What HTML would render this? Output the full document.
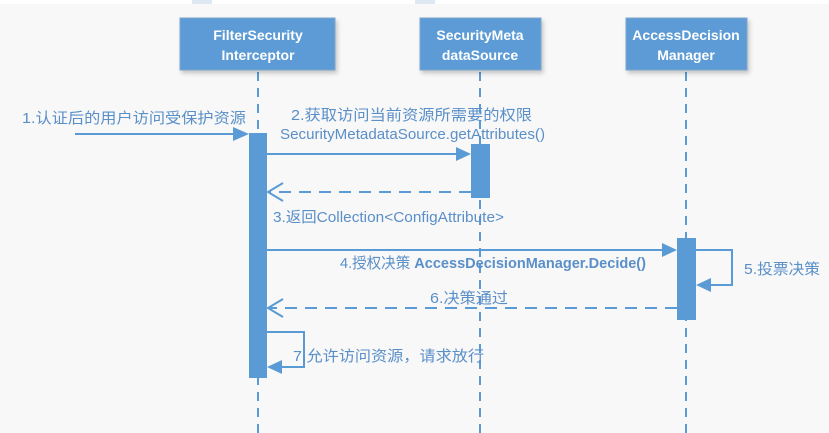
<!DOCTYPE html>
<html><head><meta charset="utf-8"><style>
html,body{margin:0;padding:0;background:#f8f8f8;}
svg{display:block;}
text{font-family:"Liberation Sans","Noto Sans CJK SC",sans-serif;fill:#5a8fc8;font-size:15px;}
.bt{fill:#fff;font-size:14px;font-weight:bold;text-anchor:middle;}
</style></head><body>
<svg width="829" height="433" viewBox="0 0 829 433">
<rect x="0" y="0" width="829" height="4" fill="#fff"/>
<rect x="192" y="0" width="20" height="4" fill="#dde8f3"/>
<rect x="415" y="0" width="20" height="4" fill="#dde8f3"/>
<defs>
<filter id="sh" x="-10%" y="-10%" width="130%" height="140%"><feDropShadow dx="2" dy="3" stdDeviation="2" flood-color="#000" flood-opacity="0.2"/></filter>
</defs>
<g stroke="#5b9bd5" stroke-width="2" stroke-dasharray="9,7" fill="none">
<line x1="258" y1="72" x2="258" y2="433"/>
<line x1="480" y1="72" x2="480" y2="433"/>
<line x1="686" y1="72" x2="686" y2="433"/>
</g>
<g fill="#5b9bd5" stroke="#7fa7cf" stroke-width="1" filter="url(#sh)">
<rect x="180" y="18" width="155" height="52"/>
<rect x="420" y="18" width="121" height="52"/>
<rect x="626" y="18" width="121" height="52"/>
</g>
<text class="bt" x="258" y="40">FilterSecurity</text>
<text class="bt" x="258" y="60">Interceptor</text>
<text class="bt" x="480" y="40">SecurityMeta</text>
<text class="bt" x="480" y="60">dataSource</text>
<text class="bt" x="686" y="40">AccessDecision</text>
<text class="bt" x="686" y="60">Manager</text>
<g fill="#5b9bd5">
<rect x="249" y="133" width="18" height="245"/>
<rect x="471" y="144" width="19" height="54"/>
<rect x="677" y="238" width="19" height="82"/>
</g>
<g stroke="#5b9bd5" stroke-width="2" fill="none">
<line x1="75" y1="134" x2="236" y2="134"/>
<line x1="267" y1="154" x2="459" y2="154"/>
<line x1="267" y1="250" x2="665" y2="250"/>
<polyline points="696,250 732,250 732,285 709,285"/>
<polyline points="267,332 304,332 304,367 280,367"/>
<line x1="471" y1="192" x2="268" y2="192" stroke-dasharray="12,8"/>
<line x1="677" y1="308" x2="268" y2="308" stroke-dasharray="12,8"/>
<polyline points="283,183 268,192 283,201"/>
<polyline points="283,299 268,308 283,317"/>
</g>
<g fill="#5b9bd5">
<polygon points="233,127 249,134 233,141"/>
<polygon points="456,147 471,154 456,161"/>
<polygon points="662,243 677,250 662,257"/>
<polygon points="711,278 696,285 711,292"/>
<polygon points="282,360 267,367 282,374"/>
</g>
<text x="22" y="123" textLength="224" lengthAdjust="spacingAndGlyphs" font-size="16">1.认证后的用户访问受保护资源</text>
<text x="291" y="120" textLength="241" lengthAdjust="spacingAndGlyphs">2.获取访问当前资源所需要的权限</text>
<text x="280" y="139" textLength="265" lengthAdjust="spacingAndGlyphs">SecurityMetadataSource.getAttributes()</text>
<text x="273" y="222" textLength="231" lengthAdjust="spacingAndGlyphs">3.返回Collection&lt;ConfigAttribute&gt;</text>
<text x="340" y="268" textLength="306" lengthAdjust="spacingAndGlyphs">4.授权决策 <tspan font-weight="bold">AccessDecisionManager.Decide()</tspan></text>
<text x="744" y="274" textLength="76" lengthAdjust="spacingAndGlyphs">5.投票决策</text>
<text x="430" y="303" textLength="78" lengthAdjust="spacingAndGlyphs">6.决策通过</text>
<text x="293" y="361" textLength="191" lengthAdjust="spacingAndGlyphs">7.允许访问资源，请求放行</text>
</svg>
</body></html>
